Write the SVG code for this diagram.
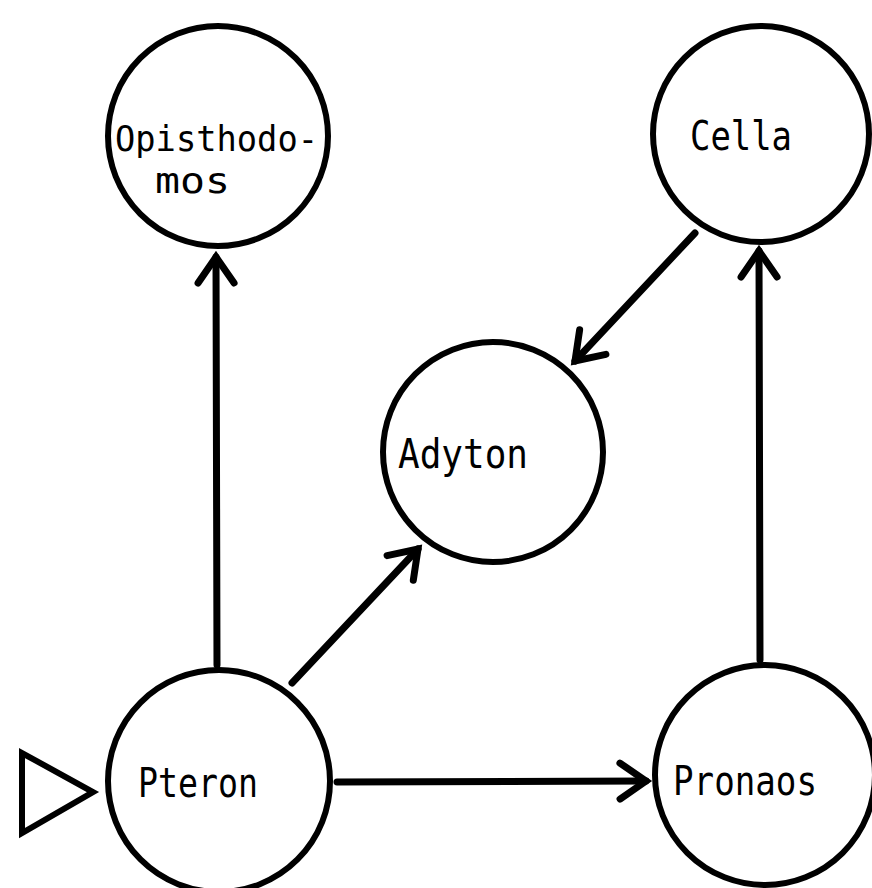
<svg xmlns="http://www.w3.org/2000/svg" width="872" height="888" viewBox="0 0 872 888">
<style>
.node{fill:#fff;stroke:#000;stroke-width:6}
.lbl{font-family:"DejaVu Sans Mono","Liberation Mono",monospace;font-size:40px;fill:#000}
.sm{font-size:35px}
.edge{stroke:#000;stroke-width:7;fill:none;stroke-linecap:round}
</style>
<defs>
<marker id="arr" markerUnits="userSpaceOnUse" markerWidth="60" markerHeight="60" refX="0" refY="0" viewBox="-40 -30 60 60" orient="auto">
<path d="M-26,-18 L0,0 L-26,18" fill="none" stroke="#000" stroke-width="7" stroke-linejoin="miter" stroke-linecap="round"/>
</marker>
</defs>
<rect width="872" height="888" fill="#fff"/>
<g id="connectors">
<line class="edge" x1="217" y1="665" x2="216" y2="257" marker-end="url(#arr)"/>
<line class="edge" x1="760" y1="660" x2="759" y2="251" marker-end="url(#arr)"/>
<line class="edge" x1="337" y1="782" x2="646" y2="781" marker-end="url(#arr)"/>
<line class="edge" x1="292" y1="683" x2="418" y2="549" marker-end="url(#arr)"/>
<line class="edge" x1="695" y1="233" x2="575" y2="361" marker-end="url(#arr)"/>
</g>
<g id="start">
<polygon points="22,753 22,833 93,792" fill="#fff" stroke="#000" stroke-width="6" stroke-linejoin="miter"/>
</g>
<g id="opisthodomos">
<circle class="node" cx="218" cy="136" r="110"/>
<text class="lbl sm" x="115" y="151" textLength="203" lengthAdjust="spacingAndGlyphs">Opisthodo-</text>
<text class="lbl sm" x="155" y="193" textLength="75" lengthAdjust="spacingAndGlyphs">mos</text>
</g>
<g id="cella">
<circle class="node" cx="761" cy="134" r="108"/>
<text class="lbl" x="690" y="150" textLength="102" lengthAdjust="spacingAndGlyphs">Cella</text>
</g>
<g id="adyton">
<circle class="node" cx="493" cy="452" r="110"/>
<text class="lbl" x="398" y="468" textLength="130" lengthAdjust="spacingAndGlyphs">Adyton</text>
</g>
<g id="pteron">
<circle class="node" cx="219" cy="781" r="111"/>
<text class="lbl" x="138" y="797" textLength="120" lengthAdjust="spacingAndGlyphs">Pteron</text>
</g>
<g id="pronaos">
<circle class="node" cx="765" cy="775" r="110"/>
<text class="lbl" x="673" y="795" textLength="144" lengthAdjust="spacingAndGlyphs">Pronaos</text>
</g>
</svg>
